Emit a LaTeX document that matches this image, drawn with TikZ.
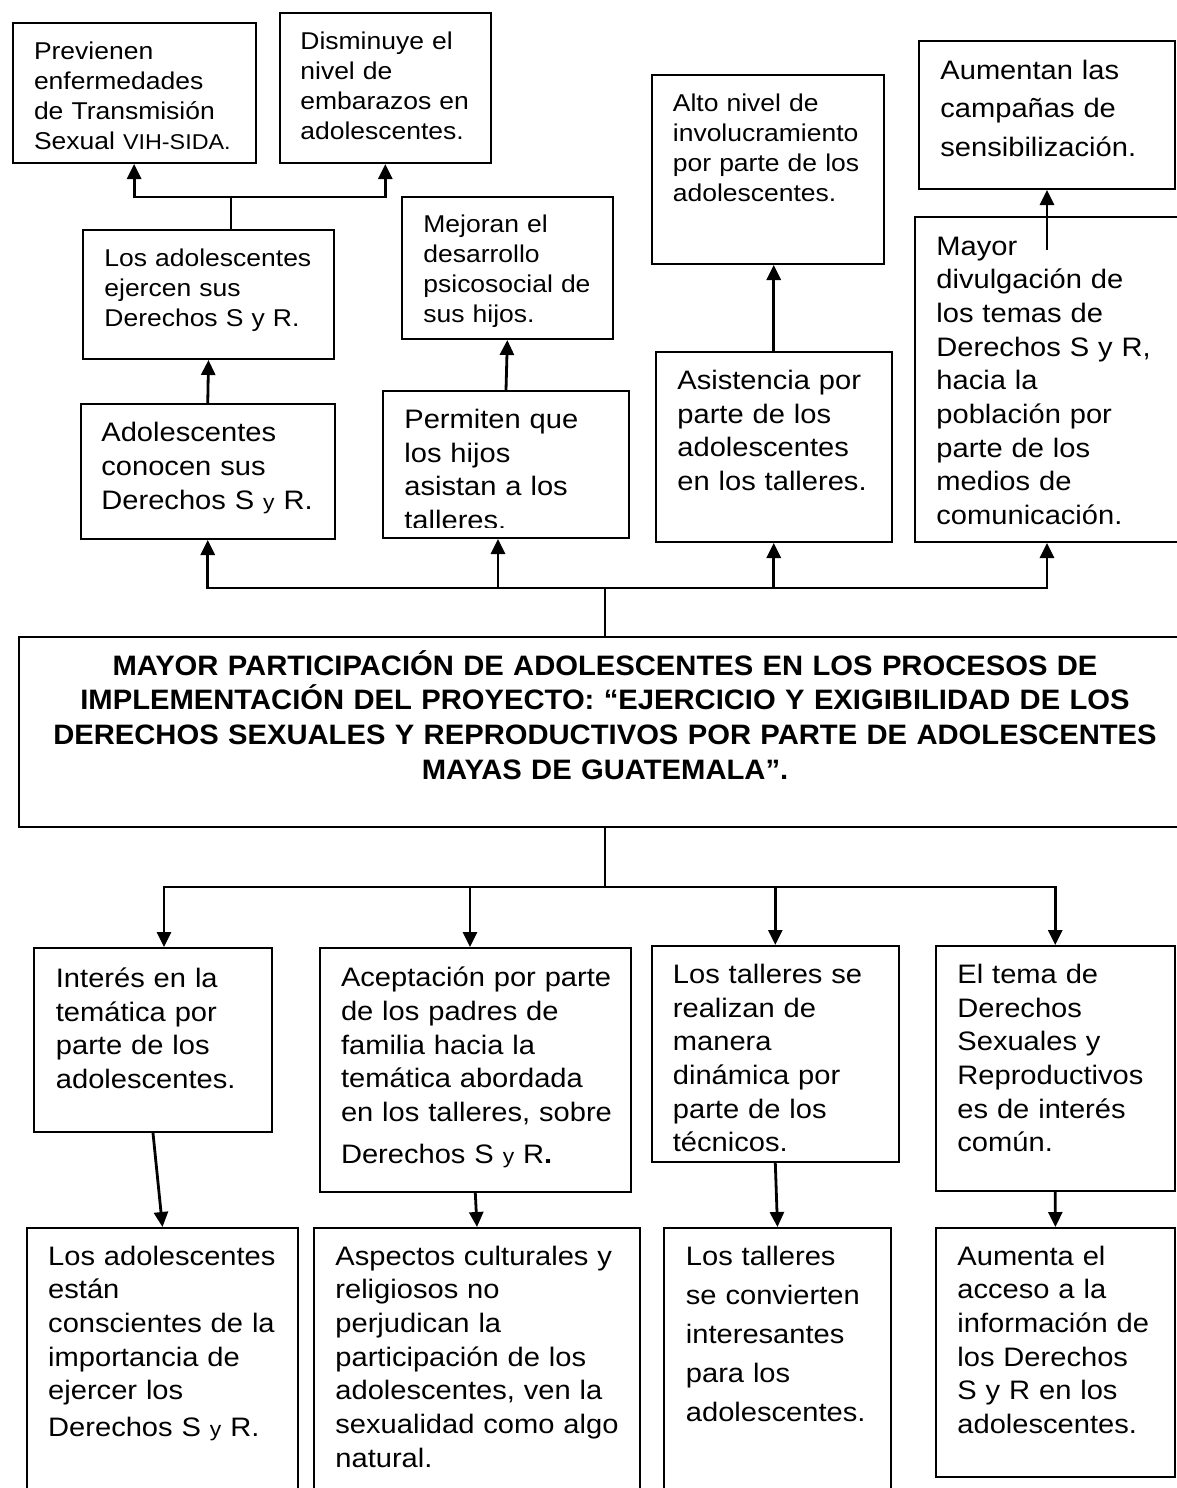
\documentclass[tikz,border=0pt]{standalone}
\usepackage{fontspec}
\setmainfont{Liberation Sans}[FakeStretch=1.09]
\newfontfamily\titlefont{Liberation Sans}[FakeStretch=1.04]
\usetikzlibrary{arrows.meta,fit,calc}
\newcommand\fsm{\fontsize{12.15pt}{15pt}\selectfont}
\newcommand\flg{\fontsize{13.35pt}{16.85pt}\selectfont}
\newcommand\smally{{\fontsize{10.5pt}{10.5pt}\selectfont y}}
\newcommand\smallvih{{\fontsize{10.7pt}{10.7pt}\selectfont VIH-SIDA.}}
\begin{document}
\begin{tikzpicture}[x=0.5pt,y=-0.5pt,
  box/.style={draw, line width=1pt, inner sep=0pt},
  conn/.style={line width=1.4pt},
  arr/.style={conn, -{Triangle[length=7.5pt,width=7pt]}},
  txt/.style={anchor=base west, inner sep=0pt, align=left, text width=200pt},
  tsm/.style={txt, font=\fsm},
  tlg/.style={txt, font=\flg}]
\useasboundingbox (0,0) rectangle (1177,1488);
\clip (0,0) rectangle (1177,1488);

% ---------- boxes ----------
\node[box, fit={(12.6,23) (255.6,163)}] (P) {};
\node[box, fit={(280,13) (490.6,163)}] (D) {};
\node[box, fit={(83,230) (334,359)}] (E) {};
\node[box, fit={(401.7,197) (613,339)}] (M) {};
\node[box, fit={(81,404) (334.5,539)}] (C) {};
\node[box, fit={(383,391) (629,538)}] (Pe) {};
\node[box, fit={(651.6,75) (883.5,264)}] (A) {};
\node[box, fit={(919,41) (1175,189)}] (Au) {};
\node[box, fit={(656,352) (891.5,542)}] (As) {};
\node[box, fit={(915,217) (1195,542)}] (My) {};
\node[box, fit={(19,637) (1191,827)}] (Main) {};
\node[box, fit={(34,948) (272,1132)}] (I) {};
\node[box, fit={(319.6,948) (631,1192)}] (Ac) {};
\node[box, fit={(651.6,946) (899,1162)}] (T) {};
\node[box, fit={(935.7,946) (1174.8,1191)}] (ET) {};
\node[box, fit={(27,1228) (298,1510)}] (Es) {};
\node[box, fit={(314,1228) (640,1510)}] (As2) {};
\node[box, fit={(664,1228) (891,1510)}] (Tc) {};
\node[box, fit={(935.7,1228) (1175,1477)}] (Aa) {};

% ---------- texts ----------
\node[tsm] (Pt) at (33.6,59.3) {Previenen\\enfermedades\\de Transmisión\\Sexual \smallvih};
\node[tsm] (Dt) at (300,49.3) {Disminuye el\\nivel de\\embarazos en\\adolescentes.};
\node[tsm] (Et) at (104,266.7) {Los adolescentes\\ejercen sus\\Derechos S y R.};
\node[tsm] (Mt) at (423,232.5) {Mejoran el\\desarrollo\\psicosocial de\\sus hijos.};
\node[tlg] (Ct) at (101,441.7) {Adolescentes\\conocen sus\\Derechos S \smally{} R.};
\begin{scope}
\clip (383,391) rectangle (629,527);
\node[tlg] (Pet) at (404,428.3) {Permiten que\\los hijos\\asistan a los\\talleres.};
\end{scope}
\node[tsm] (At) at (672.5,111.7) {Alto nivel de\\involucramiento\\por parte de los\\adolescentes.};
\node[txt, font=\fontsize{13.35pt}{19.3pt}\selectfont] (Aut) at (940,79.3) {Aumentan las\\campañas de\\sensibilización.};
\node[tlg] (Ast) at (677,389.3) {Asistencia por\\parte de los\\adolescentes\\en los talleres.};
\node[tlg] (Myt) at (936,255) {Mayor\\divulgación de\\los temas de\\Derechos S y R,\\hacia la\\población por\\parte de los\\medios de\\comunicación.};
\node[anchor=base, inner sep=0pt, align=center, text width=600pt,
      font=\titlefont\bfseries\fontsize{14.04pt}{17.4pt}\selectfont] (Tit) at (605,675)
  {MAYOR PARTICIPACIÓN DE ADOLESCENTES EN LOS PROCESOS DE\\IMPLEMENTACIÓN DEL PROYECTO: “EJERCICIO Y EXIGIBILIDAD DE LOS\\DERECHOS SEXUALES Y REPRODUCTIVOS POR PARTE DE ADOLESCENTES\\MAYAS DE GUATEMALA”.};
\node[tlg] (It) at (55.5,987.3) {Interés en la\\temática por\\parte de los\\adolescentes.};
\node[tlg] (Act) at (340.6,986.7) {Aceptación por parte\\de los padres de\\familia hacia la\\temática abordada\\en los talleres, sobre\\[4pt]Derechos S \smally{} R{\bfseries .}};
\begin{scope}
\clip (651.6,946) rectangle (899,1152);
\node[tlg] (Tt) at (672.5,983.3) {Los talleres se\\realizan de\\manera\\dinámica por\\parte de los\\técnicos.};
\end{scope}
\node[tlg] (ETt) at (957,983.3) {El tema de\\Derechos\\Sexuales y\\Reproductivos\\es de interés\\común.};
\node[tlg] (Est) at (47.8,1265) {Los adolescentes\\están\\conscientes de la\\importancia de\\ejercer los\\[1.5pt]Derechos S \smally{} R.};
\node[tlg] (As2t) at (335,1265) {Aspectos culturales y\\religiosos no\\perjudican la\\participación de los\\adolescentes, ven la\\sexualidad como algo\\natural.};
\node[txt, font=\fontsize{13.35pt}{19.5pt}\selectfont] (Tct) at (685.5,1265) {Los talleres\\se convierten\\interesantes\\para los\\adolescentes.};
\node[tlg] (Aat) at (957,1265) {Aumenta el\\acceso a la\\información de\\los Derechos\\S y R en los\\adolescentes.};

% ---------- connectors: upper part ----------
\coordinate (fk) at (231,197);
\draw[conn] (E.north -| fk) -- (fk);
\draw[arr] (fk) -| (P.south);
\draw[arr] (fk) -| (D.south);
\draw[arr] (C.north) -- (E.south);
\draw[arr] (Pe.north) -- (M.south);
\draw[arr] (As.north) -- (As.north |- A.south);
\coordinate (myin) at (1047,250);
\draw[arr] (myin) -- (Au.south);

\coordinate (hT) at (605,588);
\coordinate (xPe) at (498,0);
\coordinate (xMy) at (1047,0);
\draw[conn] (Main.north -| hT) -- (hT);
\draw[arr] (hT) -| (C.south);
\draw[arr] (hT) -| (xPe |- Pe.south);
\draw[arr] (hT) -| (As.south);
\draw[arr] (hT) -| (xMy |- My.south);

% ---------- connectors: lower part ----------
\coordinate (hB) at (605,887);
\coordinate (xI) at (164,0);
\coordinate (xAc) at (470,0);
\draw[conn] (Main.south -| hB) -- (hB);
\draw[arr] (hB) -| (xI |- I.north);
\draw[arr] (hB) -| (xAc |- Ac.north);
\draw[arr] (hB) -| (T.north);
\draw[arr] (hB) -| (ET.north);
\draw[arr] (I.south) -- (Es.north);
\draw[arr] (Ac.south) -- (As2.north);
\draw[arr] (T.south) -- (Tc.north);
\draw[arr] (ET.south) -- (Aa.north);
\end{tikzpicture}
\end{document}
